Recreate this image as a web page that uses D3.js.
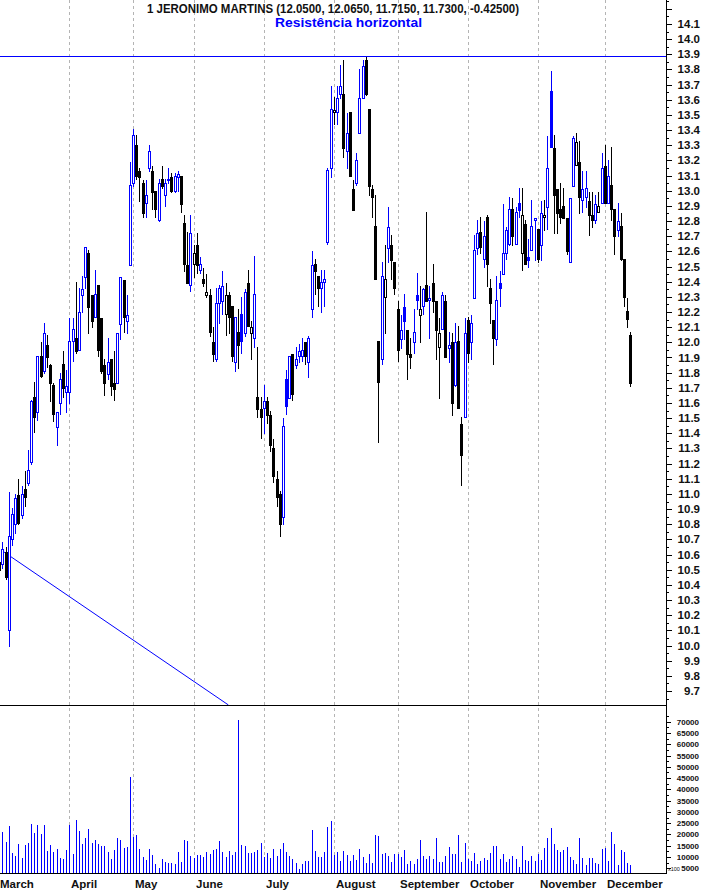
<!DOCTYPE html>
<html><head><meta charset="utf-8">
<script src="https://cdn.jsdelivr.net/npm/d3@7"></script>
<style>html,body{margin:0;padding:0;background:#fff;}svg{display:block;}</style>
</head><body>
<script>
// ---------- DATA ----------
const months = ["March","April","May","June","July","August","September","October","November","December"];
const monthStart = [0,22,42,61,83,105,125,147,169,190];

const open = [
10.55,10.54,10.62,10.10,10.70,10.80,10.99,10.86,11.03,11.07,11.21,11.64,11.54,11.91,11.81,11.98,11.85,11.72,11.44,11.60,11.86,11.67,
11.67,12.01,12.03,11.95,12.31,12.43,12.59,12.31,12.17,12.38,12.16,11.85,11.79,11.89,11.73,11.73,12.12,12.41,12.14,12.51,
13.05,13.30,13.13,13.05,12.92,13.15,13.13,13.00,12.81,13.08,12.97,13.07,13.09,13.00,13.09,13.10,12.79,12.51,12.38,
12.52,12.64,12.48,12.42,12.31,12.31,12.00,11.89,12.26,12.27,12.19,12.31,12.24,11.87,12.07,12.19,12.06,12.39,12.06,12.03,11.64,11.56,
11.57,11.61,11.52,11.30,11.10,11.00,10.85,11.76,11.63,11.92,11.85,11.91,11.91,12.00,11.87,12.22,12.52,12.44,12.36,12.40,12.66,13.15,
13.52,13.52,13.64,13.64,13.26,13.52,13.01,13.05,13.38,13.61,13.86,13.54,13.01,12.77,12.01,11.89,12.30,12.62,12.64,12.53,
12.22,12.02,12.23,12.08,11.92,12.00,12.31,12.18,12.24,12.38,12.28,12.39,12.27,11.97,12.09,12.27,11.96,12.00,11.72,12.01,11.46,11.51,
12.15,12.00,12.29,12.62,12.73,12.55,12.83,12.36,12.15,12.02,12.39,12.45,12.59,12.65,12.88,12.65,12.92,12.59,12.78,12.56,12.61,12.81,
12.75,12.64,12.83,12.89,13.66,13.28,13.01,12.88,12.90,12.82,12.53,13.03,13.17,13.19,12.94,12.96,12.93,12.84,12.81,12.86,12.92,
13.16,12.92,13.04,12.88,12.74,12.77,12.55,12.21,12.05];
const high = [
10.58,10.68,10.65,11.01,10.91,11.00,11.10,11.05,11.15,11.29,11.62,11.74,11.91,12.00,12.13,12.05,11.86,11.73,11.54,11.80,11.94,11.82,
12.16,12.16,12.40,12.36,12.44,12.63,12.61,12.31,12.48,12.38,12.16,11.89,12.03,11.89,11.94,12.06,12.43,12.41,12.31,13.19,
13.41,13.37,13.15,13.07,13.07,13.30,13.16,13.00,13.08,13.16,13.08,13.15,13.12,13.12,13.13,13.10,12.84,12.73,12.84,
12.64,12.72,12.56,12.49,12.45,12.35,12.10,12.36,12.38,12.47,12.39,12.33,12.24,12.17,12.22,12.30,12.35,12.48,12.14,12.57,11.97,11.64,
11.72,11.64,11.55,11.36,11.15,11.02,11.50,11.82,11.91,11.92,11.97,11.99,12.03,12.00,12.04,12.60,12.55,12.44,12.48,12.48,13.15,13.69,
13.62,13.69,13.83,13.86,13.51,13.52,13.07,13.25,13.80,13.86,13.88,13.54,13.04,12.97,12.01,12.53,12.64,12.89,12.71,12.53,
12.27,12.18,12.32,12.08,12.03,12.22,12.46,12.37,12.36,12.86,12.37,12.52,12.27,12.16,12.33,12.31,12.07,12.06,12.13,12.11,11.51,12.16,
12.17,12.18,12.71,12.81,12.83,12.80,12.84,12.42,12.15,12.44,12.47,12.91,12.76,12.96,12.95,12.89,13.02,13.02,12.81,12.68,12.94,12.82,
12.75,12.93,12.94,13.36,13.79,13.37,13.01,13.05,13.02,12.82,12.95,13.36,13.38,13.33,13.13,13.13,12.99,12.99,12.97,12.99,13.25,
13.30,13.20,13.29,12.88,12.92,12.85,12.55,12.29,12.065];
const low = [
10.48,10.51,10.44,10.00,10.66,10.74,10.80,10.84,10.92,11.06,11.20,11.41,11.49,11.77,11.80,11.84,11.61,11.48,11.32,11.53,11.64,11.54,
11.60,11.88,11.93,11.95,12.20,12.36,12.06,12.10,12.17,11.91,11.80,11.65,11.76,11.65,11.62,11.73,12.02,12.07,12.06,12.51,
13.03,13.08,12.93,12.83,12.83,13.13,12.88,12.83,12.80,13.02,12.90,13.05,12.99,12.99,13.00,12.86,12.47,12.39,12.34,
12.43,12.46,12.46,12.37,12.30,12.04,11.88,11.88,12.13,12.19,12.05,12.06,11.88,11.81,11.83,11.93,12.04,12.11,11.89,11.97,11.51,11.37,
11.40,11.47,11.28,11.08,10.92,10.72,10.80,11.53,11.63,11.62,11.83,11.87,11.88,11.86,11.77,12.17,12.32,12.24,12.20,12.24,12.65,13.09,
13.44,13.44,13.61,13.22,13.15,13.10,12.87,13.04,13.38,13.61,13.63,12.97,12.83,12.42,11.34,11.86,12.06,12.53,12.42,12.32,
11.88,11.96,12.02,11.76,11.83,11.93,12.22,12.00,12.19,12.27,12.03,12.20,11.89,11.63,12.09,11.90,11.87,11.52,11.71,11.57,11.06,11.51,
11.87,11.89,12.29,12.58,12.59,12.50,12.37,12.13,11.86,11.98,12.24,12.45,12.55,12.64,12.64,12.65,12.83,12.48,12.52,12.50,12.61,12.54,
12.53,12.54,12.74,12.75,13.29,12.72,12.72,12.79,12.82,12.58,12.53,13.03,13.17,12.85,12.86,12.89,12.71,12.76,12.79,12.86,12.92,
12.92,12.92,12.81,12.58,12.70,12.54,12.24,12.10,11.715];
const close = [
10.50,10.64,10.45,10.72,10.87,10.97,10.81,11.00,10.98,11.16,11.61,11.51,11.91,11.78,12.06,11.90,11.73,11.53,11.54,11.76,11.70,11.71,
12.01,12.09,11.94,12.20,12.35,12.63,12.23,12.14,12.32,11.95,11.81,11.73,11.87,11.71,11.69,12.06,12.43,12.17,12.18,13.04,
13.37,13.10,13.09,12.85,12.97,13.26,12.99,12.88,13.05,13.03,13.05,13.08,13.00,13.10,13.11,12.91,12.52,12.39,12.72,
12.59,12.51,12.52,12.39,12.33,12.07,11.92,12.26,12.36,12.37,12.31,12.17,11.91,12.17,11.98,12.01,12.33,12.11,12.10,12.32,11.56,11.51,
11.61,11.52,11.32,11.12,10.98,10.80,11.45,11.58,11.91,11.66,11.89,11.94,11.95,11.91,12.03,12.51,12.47,12.36,12.40,12.42,13.14,13.54,
13.53,13.61,13.69,13.28,13.38,13.10,12.87,13.20,13.61,13.82,13.64,13.03,12.96,12.42,11.74,12.44,12.42,12.76,12.54,12.36,
11.95,12.08,12.14,11.92,11.90,12.07,12.28,12.22,12.35,12.27,12.29,12.27,12.08,12.06,12.31,11.90,11.98,11.60,12.00,11.57,11.26,12.06,
11.93,12.13,12.61,12.72,12.63,12.70,12.52,12.26,12.03,12.28,12.36,12.59,12.74,12.88,12.70,12.86,12.87,12.84,12.52,12.54,12.77,12.82,
12.55,12.85,12.84,13.15,13.29,12.97,12.85,12.83,12.82,12.60,12.95,13.35,13.32,12.96,13.01,13.02,12.84,12.81,12.91,12.90,13.15,
12.92,13.10,12.88,12.70,12.80,12.55,12.30,12.155,11.73];
// volume in units of 100 shares
const volume = [
15000,21200,16700,23900,11700,10500,15700,9700,15400,16300,24600,20700,24300,20200,24300,12700,15400,12300,13600,9700,9100,13200,
24300,11500,26500,21600,15700,18400,22500,16100,17600,15700,14900,14900,12400,9100,13200,18500,17600,14000,14500,45700,
19000,19800,13600,10000,8800,13600,10800,7100,5100,9100,7900,7200,7200,6800,12300,8000,17500,17200,10500,
9700,10900,10900,10000,12300,11500,13200,13700,17200,12300,10000,12700,10900,12300,70700,15400,14900,11800,11800,12300,13200,16300,
10000,11800,9600,13600,10500,13600,16300,12300,10500,9100,7400,4500,6900,8100,8300,22200,12700,10000,10000,12300,23400,26100,
10900,12300,8300,12700,10900,8300,10900,8800,13600,10000,7400,11400,7400,19800,19400,11400,11800,10500,7800,11400,
11400,10000,13200,6900,8300,6900,9100,17600,10500,9100,10500,9100,18500,7800,7800,10500,14500,11400,11400,19800,7800,16300,
9100,8300,11800,6900,8300,9600,8800,11800,14900,14900,9100,11400,7800,9100,10500,9100,5500,14900,8800,8300,10500,8300,
11400,8500,14000,18500,23000,15800,13200,12300,13200,14500,10000,8800,6900,18500,9600,6600,9600,9600,7400,6900,13600,
14000,8300,21200,15800,6500,13200,12300,7400,6500];

const priceLabels = d3.range(97, 142).map(v => v / 10);
const volumeLabels = d3.range(5000, 70001, 5000);
const resistance = 13.885;
const trendIdx = [1, 71.9];
const trendPrice = [10.624, 9.608];
const titleText = "1 JERONIMO MARTINS (12.0500, 12.0650, 11.7150, 11.7300, -0.42500)";
const subtitleText = "Resistência horizontal";

// ---------- LAYOUT ----------
const W = 702, H = 891;
const plotRight = 666, priceBottom = 705, volBottom = 873;
const BLUE = "#0000ff", BLACK = "#000000", GRID = "#b4b4b4";
const FONT = "'Liberation Sans', Arial, sans-serif";
const N = close.length;

const svg = d3.select("body").append("svg").attr("width", W).attr("height", H)
  .attr("font-family", FONT);

const x = d3.scaleLinear().domain([0, N - 1]).range([-0.8, 630.3]);
const y = d3.scaleLinear().domain([9.7, 14.1]).range([691, 24]);
const yv = d3.scaleLinear().domain([5000, 70000]).range([868.3, 721.7]);
const px = i => Math.round(x(i));

svg.append("defs").append("clipPath").attr("id", "pc")
  .append("rect").attr("x", 0).attr("y", 0).attr("width", plotRight).attr("height", priceBottom);

// month gridlines
svg.append("g").selectAll("line").data(monthStart.slice(1)).join("line")
  .attr("x1", d => px(d) + 0.5).attr("x2", d => px(d) + 0.5)
  .attr("y1", 0).attr("y2", volBottom)
  .attr("stroke", GRID).attr("stroke-width", 1).attr("stroke-dasharray", "3,3");

const gP = svg.append("g").attr("clip-path", "url(#pc)");

// resistance & trend lines
const ry = Math.floor(y(resistance)) + 0.5;
gP.append("line").attr("x1", 0).attr("x2", plotRight).attr("y1", ry).attr("y2", ry)
  .attr("stroke", BLUE).attr("stroke-width", 1);
gP.append("line")
  .attr("x1", x(trendIdx[0])).attr("y1", y(trendPrice[0]))
  .attr("x2", x(trendIdx[1])).attr("y2", y(trendPrice[1]))
  .attr("stroke", BLUE).attr("stroke-width", 1);

// candles
const candles = d3.range(N).map(i => ({
  i, o: open[i], h: high[i], l: low[i], c: close[i],
  up: i > 0 ? close[i] > close[i - 1] : false
}));
const gc = gP.selectAll("g.c").data(candles).join("g").attr("class", "c");
gc.append("line")
  .attr("x1", d => px(d.i) + 0.5).attr("x2", d => px(d.i) + 0.5)
  .attr("y1", d => Math.round(y(d.h))).attr("y2", d => Math.round(y(d.l)) + 1)
  .attr("stroke", d => d.up ? BLUE : BLACK).attr("stroke-width", 1);
gc.each(function (d) {
  const g = d3.select(this);
  const col = d.up ? BLUE : BLACK;
  const top = Math.round(y(Math.max(d.o, d.c)));
  const bot = Math.round(y(Math.min(d.o, d.c)));
  if (d.c > d.o) {
    g.append("rect").attr("x", px(d.i) - 0.5).attr("y", top + 0.5)
      .attr("width", 2).attr("height", Math.max(bot - top, 1))
      .attr("fill", "#fff").attr("stroke", col).attr("stroke-width", 1);
  } else {
    g.append("rect").attr("x", px(d.i) - 1).attr("y", top)
      .attr("width", 3).attr("height", Math.max(bot - top, 1) + 1)
      .attr("fill", col);
  }
});

// volume bars
svg.append("g").selectAll("line").data(volume).join("line")
  .attr("x1", (d, i) => px(i) + 0.5).attr("x2", (d, i) => px(i) + 0.5)
  .attr("y1", d => Math.round(yv(d))).attr("y2", volBottom)
  .attr("stroke", BLUE).attr("stroke-width", 1);

// frame lines
svg.append("line").attr("x1", 0).attr("x2", plotRight + 1).attr("y1", priceBottom + 0.5).attr("y2", priceBottom + 0.5).attr("stroke", BLACK);
svg.append("line").attr("x1", 0).attr("x2", plotRight + 1).attr("y1", volBottom + 0.5).attr("y2", volBottom + 0.5).attr("stroke", BLACK);
svg.append("line").attr("x1", plotRight + 0.5).attr("x2", plotRight + 0.5).attr("y1", 0).attr("y2", volBottom + 1).attr("stroke", BLACK);

// price axis ticks & labels
const pt = d3.range(193, 286).map(v => v / 20).filter(v => y(v) >= 0 && y(v) <= priceBottom);
svg.append("g").selectAll("line").data(pt).join("line")
  .attr("x1", plotRight).attr("x2", (d) => plotRight + (Math.round(d * 20) % 2 === 0 ? 6 : 3))
  .attr("y1", d => Math.round(y(d)) + 0.5).attr("y2", d => Math.round(y(d)) + 0.5)
  .attr("stroke", BLACK);
svg.append("g").selectAll("text").data(priceLabels).join("text")
  .attr("x", 700).attr("y", d => y(d) + 4)
  .attr("text-anchor", "end").attr("font-size", "11.5px").attr("font-weight", "bold")
  .attr("fill", "#111").text(d => d.toFixed(1));

// volume axis ticks & labels
const vt = d3.range(1, 30).map(k => k * 2500).filter(v => yv(v) > priceBottom + 2 && yv(v) < volBottom);
svg.append("g").selectAll("line").data(vt).join("line")
  .attr("x1", plotRight).attr("x2", d => plotRight + (d % 5000 === 0 ? 5 : 3))
  .attr("y1", d => Math.round(yv(d)) + 0.5).attr("y2", d => Math.round(yv(d)) + 0.5)
  .attr("stroke", BLACK);
svg.append("g").selectAll("text").data(volumeLabels).join("text")
  .attr("x", 699).attr("y", d => yv(d) + 3)
  .attr("text-anchor", "end").attr("font-size", "8px").attr("font-weight", "bold")
  .attr("fill", "#111").text(d => d);
svg.append("text").attr("x", 668).attr("y", 870.5).attr("font-size", "5.5px").attr("fill", "#111").text("x100");

// month labels
svg.append("g").selectAll("text").data(monthStart).join("text")
  .attr("x", (d, k) => k === 0 ? 0 : px(d) + 2).attr("y", 887.5)
  .attr("font-size", "11.5px").attr("font-weight", "bold").attr("fill", "#111")
  .text((d, k) => months[k]);

// titles
svg.append("text").attr("x", 333).attr("y", 13).attr("text-anchor", "middle")
  .attr("font-size", "12.5px").attr("font-weight", "bold").attr("fill", "#111")
  .attr("textLength", 372).attr("lengthAdjust", "spacingAndGlyphs").text(titleText);
svg.append("text").attr("x", 348.5).attr("y", 26.5).attr("text-anchor", "middle")
  .attr("font-size", "12.5px").attr("font-weight", "bold").attr("fill", BLUE)
  .attr("textLength", 147).attr("lengthAdjust", "spacingAndGlyphs").text(subtitleText);
</script>
</body></html>
